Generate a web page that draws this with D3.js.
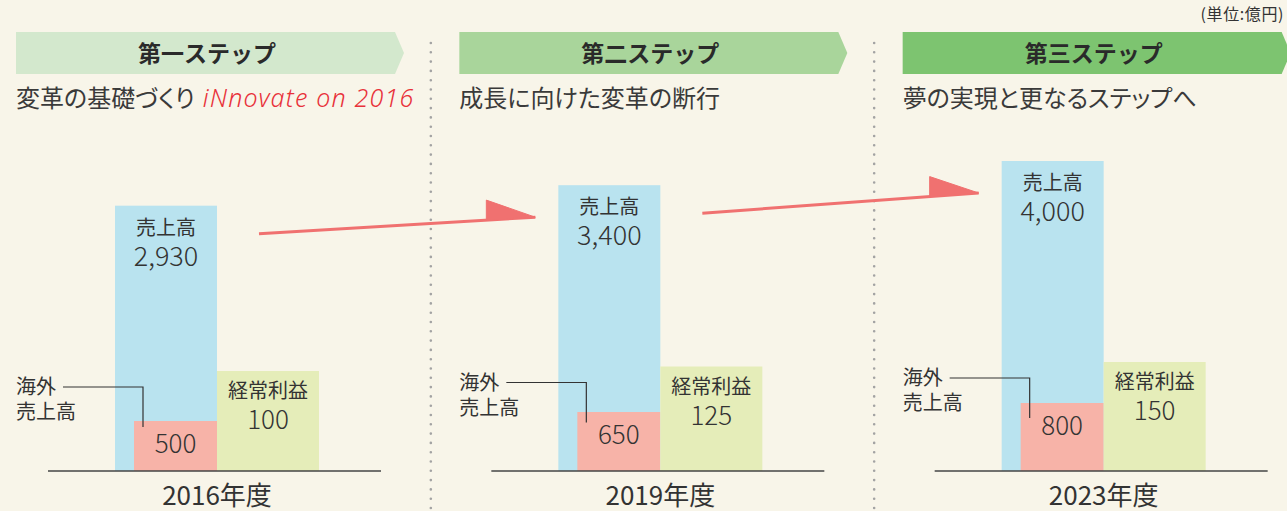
<!DOCTYPE html>
<html>
<head>
<meta charset="utf-8">
<script src="https://cdn.jsdelivr.net/npm/d3@7"></script>
<style>
  body { margin: 0; background: #f8f5e9; }
  svg { display: block; font-family: "Noto Sans CJK JP", sans-serif; }
</style>
</head>
<body>
<script>
// chart data
const years = ["2016年度", "2019年度", "2023年度"];
const steps = ["第一ステップ", "第二ステップ", "第三ステップ"];
const themes = ["変革の基礎づくり", "成長に向けた変革の断行", "夢の実現と更なるステップへ"];
const themeTags = ["iNnovate on 2016", "", ""];
const sales = [2930, 3400, 4000];
const overseasSales = [500, 650, 800];
const ordinaryProfit = [100, 125, 150];
const salesLabel = "売上高";
const overseasLabel = ["海外", "売上高"];
const profitLabel = "経常利益";
const unitLabel = "(単位:億円)";

const chart = (() => {
  var initModule, configMap, drawPanel, drawArrow;

  configMap = {
    width: 1287,
    height: 511,
    baseY: 471,
    ink: "#333",
    bannerColors: ["#d3e8cd", "#a9d59b", "#7dc470"],
    salesColor: "#b9e3ef",
    overseasColor: "#f7b3a8",
    profitColor: "#e5edb9",
    arrowColor: "#f07170"
  };

  initModule = () => {
    const { width, height } = configMap;

    const svg = d3.select("body").append("svg")
      .attr("width", width)
      .attr("height", height);

    svg.append("rect")
      .attr("width", width)
      .attr("height", height)
      .attr("fill", "#f8f5e9");

    // one panel per fiscal year
    const x0 = d3.scaleBand().domain(years).range([0, 1330]);
    // sales and profit bars side by side
    const x1 = d3.scaleBand().domain(["sales", "profit"]).range([115, 319]);

    // bar heights (illustrative, not to a common scale)
    const hSales = d3.scaleSqrt().domain([0, 4000]).range([0, 310]);
    const hOverseas = d3.scaleLinear().domain([0, 800]).range([20, 68]);
    const hProfit = d3.scaleLinear().domain([0, 150]).range([82, 109]);

    const scales = { x0, x1, hSales, hOverseas, hProfit };

    svg.append("text")
      .attr("x", 1284)
      .attr("y", 20)
      .attr("text-anchor", "end")
      .attr("font-size", 16)
      .attr("letter-spacing", 0.6)
      .attr("fill", configMap.ink)
      .text(unitLabel);

    // dotted dividers between panels
    years.slice(1).forEach((yr) => {
      svg.append("line")
        .attr("x1", x0(yr) - 12.5)
        .attr("x2", x0(yr) - 12.5)
        .attr("y1", 43)
        .attr("y2", height + 5)
        .attr("stroke", "#a3a3a3")
        .attr("stroke-width", 2.6)
        .attr("stroke-linecap", "round")
        .attr("stroke-dasharray", "0 9.3");
    });

    years.forEach((yr, i) => drawPanel(svg, scales, i));

    // growth arrows between sales bars
    for (let i = 0; i < years.length - 1; i++) {
      drawArrow(svg,
        [x0(years[i]) + 259, configMap.baseY - hSales(sales[i]) + 28],
        [x0(years[i + 1]) + 92, configMap.baseY - hSales(sales[i + 1]) + 32]);
    }

    return "chart initialized.";
  };

  drawPanel = (svg, s, i) => {
    const baseY = configMap.baseY;
    const g = svg.append("g")
      .attr("transform", `translate(${s.x0(years[i])},0)`);

    // banner
    g.append("path")
      .attr("d", "M16,32H395L404,53L395,74H16Z")
      .attr("fill", configMap.bannerColors[i]);

    g.append("text")
      .attr("x", 207)
      .attr("y", 62)
      .attr("text-anchor", "middle")
      .attr("font-size", 23)
      .attr("font-weight", 700)
      .attr("fill", "#2a2a2a")
      .text(steps[i]);

    const sub = g.append("text")
      .attr("x", 16)
      .attr("y", 107)
      .attr("font-size", 24)
      .attr("fill", "#3a3a3a")
      .style("font-feature-settings", "'palt'")
      .text(themes[i]);

    if (themeTags[i]) {
      sub.append("tspan")
        .attr("dx", 8)
        .attr("fill", "#e8313a")
        .attr("font-style", "italic")
        .attr("font-family", "'Noto Sans', sans-serif")
        .attr("font-size", 25)
        .attr("font-weight", 300)
        .attr("letter-spacing", 1.2)
        .text(themeTags[i]);
    }

    const bw = s.x1.bandwidth();
    const salesTop = baseY - s.hSales(sales[i]);
    const overTop = baseY - s.hOverseas(overseasSales[i]);
    const profTop = baseY - s.hProfit(ordinaryProfit[i]);
    const xs = s.x1("sales"), xp = s.x1("profit");

    g.append("rect")
      .attr("x", xs).attr("y", salesTop)
      .attr("width", bw).attr("height", baseY - salesTop)
      .attr("fill", configMap.salesColor);

    g.append("rect")
      .attr("x", xs + 19).attr("y", overTop)
      .attr("width", bw - 19).attr("height", baseY - overTop)
      .attr("fill", configMap.overseasColor);

    g.append("rect")
      .attr("x", xp).attr("y", profTop)
      .attr("width", bw).attr("height", baseY - profTop)
      .attr("fill", configMap.profitColor);

    const label = (x, y, size, weight, txt) =>
      g.append("text")
        .attr("x", x).attr("y", y)
        .attr("text-anchor", "middle")
        .attr("font-size", size)
        .attr("font-weight", weight)
        .attr("fill", configMap.ink)
        .text(txt);

    label(xs + bw / 2, salesTop + 29, 20, 400, salesLabel);
    label(xs + bw / 2, salesTop + 60, 27, 300, d3.format(",")(sales[i]));
    label(xs + 19 + (bw - 19) / 2, overTop + 32, 26, 300, overseasSales[i]);
    label(xp + bw / 2, profTop + 27, 20, 400, profitLabel);
    label(xp + bw / 2, profTop + 58, 26, 300, ordinaryProfit[i]);

    // overseas sales callout
    const ly = profTop + 23;
    overseasLabel.forEach((t, k) => {
      g.append("text")
        .attr("x", 16)
        .attr("y", ly + k * 25)
        .attr("font-size", 20)
        .attr("font-weight", 400)
        .attr("fill", configMap.ink)
        .text(t);
    });
    g.append("path")
      .attr("d", `M63,${ly - 7}H143V${ly + 33}`)
      .attr("fill", "none")
      .attr("stroke", configMap.ink)
      .attr("stroke-width", 1.2);

    // axis baseline
    g.append("line")
      .attr("x1", 48).attr("x2", 381)
      .attr("y1", baseY).attr("y2", baseY)
      .attr("stroke", "#444")
      .attr("stroke-width", 1.6);

    label((xs + xp + bw) / 2, 505, 26, 400, years[i]);
  };

  drawArrow = (svg, a, b) => {
    const k = (b[1] - a[1]) / (b[0] - a[0]);
    const bx = b[0] - 49, by = b[1] - 49 * k;

    svg.append("line")
      .attr("x1", a[0]).attr("y1", a[1])
      .attr("x2", b[0]).attr("y2", b[1])
      .attr("stroke", configMap.arrowColor)
      .attr("stroke-width", 3);

    svg.append("path")
      .attr("d", `M${bx},${by - 20}L${bx},${by}L${b[0]},${b[1]}Z`)
      .attr("fill", configMap.arrowColor)
      .attr("stroke", configMap.arrowColor)
      .attr("stroke-width", 1)
      .attr("stroke-linejoin", "round");
  };

  return { initModule: initModule };
})();

chart.initModule();
</script>
</body>
</html>
